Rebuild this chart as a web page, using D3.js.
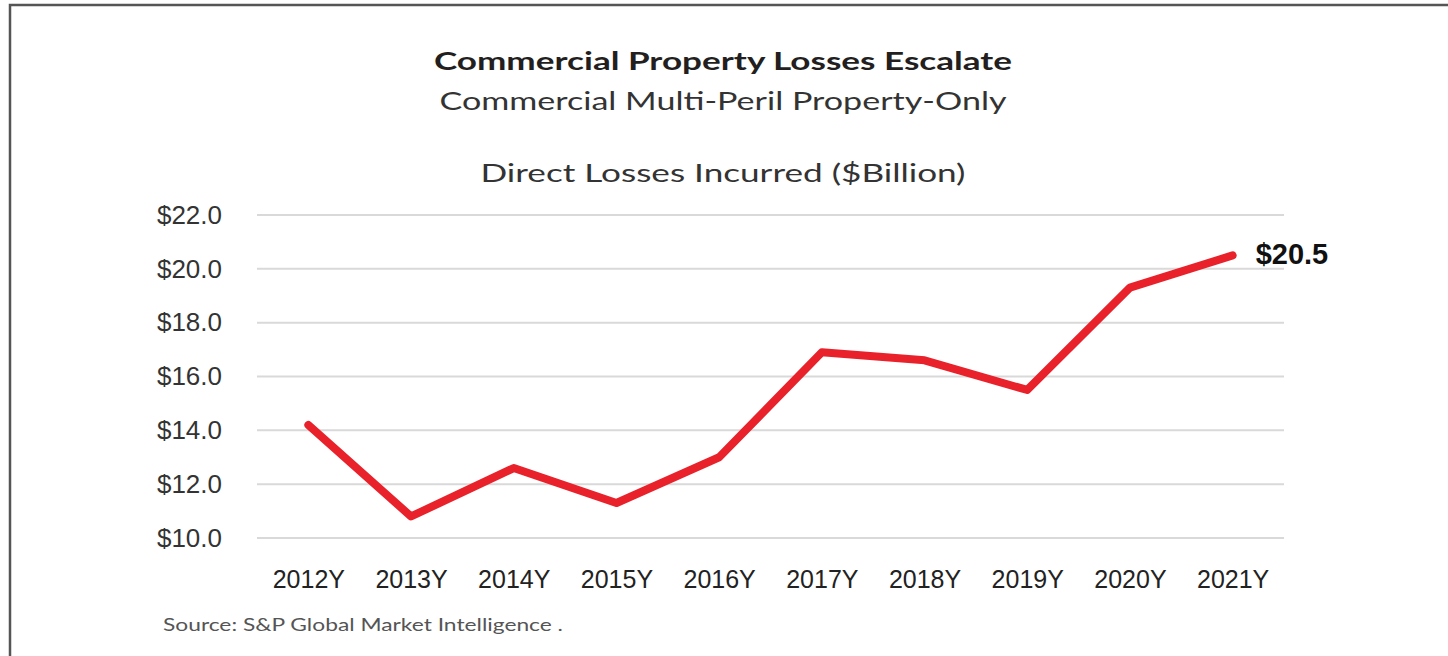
<!DOCTYPE html>
<html>
<head>
<meta charset="utf-8">
<script src="https://cdn.jsdelivr.net/npm/d3@7"></script>
<style>
  html, body { margin: 0; padding: 0; background: #fff; }
  svg { display: block; }
</style>
</head>
<body>
<svg id="chart" width="1448" height="656"></svg>
<script>
// Commercial multi-peril property-only direct losses incurred, $ billion
const years = ["2012Y", "2013Y", "2014Y", "2015Y", "2016Y", "2017Y", "2018Y", "2019Y", "2020Y", "2021Y"];
const losses = [14.2, 10.8, 12.6, 11.3, 13.0, 16.9, 16.6, 15.5, 19.3, 20.5];
const yTicks = [10, 12, 14, 16, 18, 20, 22];

const titleText = "Commercial Property Losses Escalate";
const subtitleText = "Commercial Multi-Peril Property-Only";
const axisTitleText = "Direct Losses Incurred ($Billion)";
const sourceText = "Source: S&P Global Market Intelligence .";

const svg = d3.select("#chart");
const W = 1448, H = 656;

const plot = { left: 257, right: 1284, top: 215, bottom: 538 };

const x = d3.scalePoint().domain(years).range([plot.left, plot.right]).padding(0.5);
const y = d3.scaleLinear().domain([10, 22]).range([plot.bottom, plot.top]);

// frame (top and left edges)
svg.append("path")
  .attr("d", `M${W},5 H10 V${H}`)
  .attr("fill", "none")
  .attr("stroke", "#555")
  .attr("stroke-width", 2.5);

// headings
const headFont = "'Lato', 'Open Sans', sans-serif";
svg.append("text")
  .attr("x", 723).attr("y", 70)
  .attr("text-anchor", "middle")
  .attr("font-family", headFont)
  .attr("font-weight", 700)
  .attr("font-size", 25)
  .attr("fill", "#231f20")
  .attr("textLength", 578)
  .attr("lengthAdjust", "spacingAndGlyphs")
  .text(titleText);

svg.append("text")
  .attr("x", 723).attr("y", 110)
  .attr("text-anchor", "middle")
  .attr("font-family", headFont)
  .attr("font-size", 25)
  .attr("fill", "#333")
  .attr("textLength", 567)
  .attr("lengthAdjust", "spacingAndGlyphs")
  .text(subtitleText);

svg.append("text")
  .attr("x", 723).attr("y", 182)
  .attr("text-anchor", "middle")
  .attr("font-family", headFont)
  .attr("font-size", 25)
  .attr("fill", "#333")
  .attr("textLength", 485)
  .attr("lengthAdjust", "spacingAndGlyphs")
  .text(axisTitleText);

// gridlines
svg.append("g")
  .selectAll("line")
  .data(yTicks)
  .join("line")
  .attr("x1", plot.left).attr("x2", plot.right)
  .attr("y1", d => y(d)).attr("y2", d => y(d))
  .attr("stroke", "#d9d9d9")
  .attr("stroke-width", 2);

const axisFont = "'Liberation Sans', Arial, sans-serif";

// y axis
const yAxis = svg.append("g")
  .attr("transform", `translate(${plot.left},0)`)
  .call(d3.axisLeft(y).tickValues(yTicks).tickSize(0).tickPadding(35)
    .tickFormat(d => "$" + d.toFixed(1)));
yAxis.select(".domain").remove();
yAxis.selectAll("text")
  .attr("font-family", axisFont)
  .attr("font-size", 26)
  .attr("fill", "#333");

// x axis
const xAxis = svg.append("g")
  .attr("transform", `translate(0,${plot.bottom})`)
  .call(d3.axisBottom(x).tickSize(0));
xAxis.select(".domain").remove();
xAxis.selectAll("text")
  .attr("y", 50)
  .attr("dy", 0)
  .attr("font-family", axisFont)
  .attr("font-size", 25)
  .attr("fill", "#222");

// losses line
const line = d3.line()
  .x((d, i) => x(years[i]))
  .y(d => y(d));

svg.append("path")
  .datum(losses)
  .attr("d", line)
  .attr("fill", "none")
  .attr("stroke", "#e8212a")
  .attr("stroke-width", 8)
  .attr("stroke-linejoin", "round")
  .attr("stroke-linecap", "round");

// end value label
const last = losses.length - 1;
svg.append("text")
  .attr("x", x(years[last]) + 23)
  .attr("y", y(losses[last]) + 9)
  .attr("font-family", axisFont)
  .attr("font-weight", 700)
  .attr("font-size", 29)
  .attr("fill", "#111")
  .text("$" + losses[last].toFixed(1));

// source note
svg.append("text")
  .attr("x", 163).attr("y", 631)
  .attr("font-family", headFont)
  .attr("font-size", 18)
  .attr("fill", "#555")
  .attr("textLength", 400)
  .attr("lengthAdjust", "spacingAndGlyphs")
  .text(sourceText);
</script>
</body>
</html>
